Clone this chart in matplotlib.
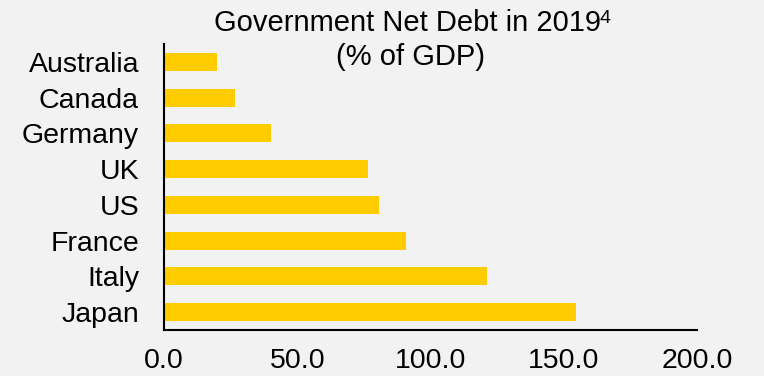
import matplotlib
matplotlib.use("Agg")
import matplotlib.pyplot as plt
from matplotlib.ticker import FormatStrFormatter

countries = ["Japan", "Italy", "France", "US", "UK", "Germany", "Canada", "Australia"]
net_debt = [154.6, 121.2, 90.7, 80.8, 76.5, 40.3, 26.5, 19.8]
x_ticks = [0, 50, 100, 150, 200]

plt.rcParams["font.family"] = ["Liberation Sans", "DejaVu Sans"]

bg = "#F2F2F2"
fs = 20.5
fig = plt.figure(figsize=(7.64, 3.76), dpi=100, facecolor=bg)
ax = fig.add_axes([164 / 764, 1 - 330 / 376, 533 / 764, 286 / 376], facecolor=bg)

ax.barh(range(len(countries)), net_debt, height=0.5, color="#FFCC00")
ax.set_yticks(range(len(countries)))
ax.set_yticklabels(countries)
ax.set_ylim(-0.5, 7.5)
ax.set_xlim(0, 200)
ax.set_xticks(x_ticks)
ax.xaxis.set_major_formatter(FormatStrFormatter("%.1f"))
ax.tick_params(axis="both", length=0, labelsize=fs, colors="black")
ax.tick_params(axis="y", pad=18)
ax.tick_params(axis="x", pad=13)

for side in ["top", "right"]:
    ax.spines[side].set_visible(False)
for side in ["left", "bottom"]:
    ax.spines[side].set_color("black")
    ax.spines[side].set_linewidth(1.5)

fig.text(407 / 764, 1 - 31 / 376, "Government Net Debt in 2019", ha="center",
         va="baseline", fontsize=21)
# footnote marker
fig.text(600 / 764, 1 - 23 / 376, "4", ha="left", va="baseline", fontsize=14)
fig.text(411 / 764, 1 - 65 / 376, "(% of GDP)", ha="center", va="baseline", fontsize=21)

fig.savefig("out.png", dpi=100, facecolor=bg)
